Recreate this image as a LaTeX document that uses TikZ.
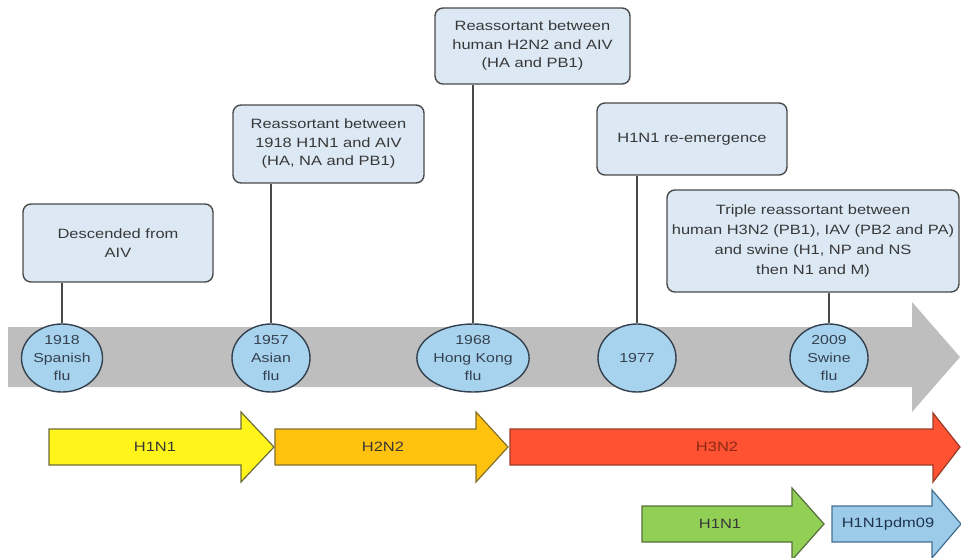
\documentclass[tikz,border=0pt]{standalone}
\usepackage{fontspec}
\setmainfont{Liberation Sans}[FakeStretch=1.22]
\usetikzlibrary{shapes.geometric}
\definecolor{boxfill}{HTML}{DCE9F5}
\definecolor{boxline}{HTML}{4A4A4A}
\definecolor{ellfill}{HTML}{A8D3EF}
\definecolor{ellline}{HTML}{34414E}
\definecolor{txt}{HTML}{383838}
\definecolor{grayarrow}{HTML}{BEBEBE}
\definecolor{yel}{HTML}{FFF51A}
\definecolor{yelline}{HTML}{6E6C3A}
\definecolor{ora}{HTML}{FFC20E}
\definecolor{oraline}{HTML}{85702A}
\definecolor{red1}{HTML}{FF5233}
\definecolor{redline}{HTML}{9A3B28}
\definecolor{grn}{HTML}{92CF55}
\definecolor{grnline}{HTML}{55703A}
\definecolor{blu}{HTML}{9CCBEA}
\definecolor{bluline}{HTML}{44708F}
\definecolor{redtxt}{HTML}{8A2A14}
\definecolor{blutxt}{HTML}{1F3550}
\begin{document}
\begin{tikzpicture}[x=1pt,y=-1pt,
  infobox/.style={draw=boxline,line width=1.4pt,fill=boxfill,rounded corners=8pt,
    align=center,text=txt,inner sep=0pt,font=\fontsize{13.5}{18.5}\selectfont},
  year/.style={ellipse,draw=ellline,line width=1.4pt,fill=ellfill,inner sep=0pt,
    minimum width=78pt,minimum height=68pt,align=center,text=ellline,
    font=\fontsize{13}{18}\selectfont},
  link/.style={draw=boxline,line width=1.6pt},
  lab/.style={font=\fontsize{13.5}{16}\selectfont,text=txt},
  band/.style={line width=1.2pt,line join=miter}]
\useasboundingbox (0,0) rectangle (961,557);

% grey timeline arrow
\fill[grayarrow] (8,327) -- (912,327) -- (912,302) -- (960,357) -- (912,412) -- (912,387) -- (8,387) -- cycle;

% info boxes
\node[infobox,minimum width=190pt,minimum height=78pt] (b1) at (118,243) {Descended from\\AIV};
\node[infobox,minimum width=191pt,minimum height=78pt] (b2) at (328.5,144) {Reassortant between\\1918 H1N1 and AIV\\(HA, NA and PB1)};
\node[infobox,minimum width=195pt,minimum height=76pt] (b3) at (532.5,46) {Reassortant between\\human H2N2 and AIV\\(HA and PB1)};
\node[infobox,minimum width=190pt,minimum height=72pt] (b4) at (692,139) {H1N1 re-emergence};
\node[infobox,minimum width=292pt,minimum height=102pt,font=\fontsize{13.5}{20}\selectfont] (b5) at (813,241) {Triple reassortant between\\human H3N2 (PB1), IAV (PB2 and PA)\\and swine (H1, NP and NS\\then N1 and M)};

% year ellipses
\node[year] (e1) at (62,358) {1918\\Spanish\\flu};
\node[year] (e2) at (271,358) {1957\\Asian\\flu};
\node[year,minimum width=88pt] (e3) at (473,358) {1968\\Hong Kong\\flu};
\node[year] (e4) at (637,358) {1977};
\node[year] (e5) at (829,358) {2009\\Swine\\flu};

% connectors
\draw[link] (e1.north) -- (e1.north |- b1.south);
\draw[link] (e2.north) -- (e2.north |- b2.south);
\draw[link] (e3.north) -- (e3.north |- b3.south);
\draw[link] (e4.north) -- (e4.north |- b4.south);
\draw[link] (e5.north) -- (e5.north |- b5.south);

% subtype arrows
\draw[band,draw=yelline,fill=yel] (49,429) -- (241,429) -- (241,412) -- (274,447) -- (241,482) -- (241,465) -- (49,465) -- cycle;
\draw[band,draw=oraline,fill=ora] (275,429) -- (476,429) -- (476,412) -- (508,447) -- (476,482) -- (476,465) -- (275,465) -- cycle;
\draw[band,draw=redline,fill=red1] (510,429) -- (933,429) -- (933,413) -- (960,447) -- (933,482) -- (933,465) -- (510,465) -- cycle;
\draw[band,draw=grnline,fill=grn] (642,506) -- (792,506) -- (792,488) -- (824,524) -- (792,560) -- (792,542) -- (642,542) -- cycle;
\draw[band,draw=bluline,fill=blu] (832,506) -- (932,506) -- (932,490) -- (961,524) -- (932,558) -- (932,542) -- (832,542) -- cycle;

\node[lab] (l1) at (155,447) {H1N1};
\node[lab] (l2) at (383,447) {H2N2};
\node[lab,text=redtxt] (l3) at (717,447) {H3N2};
\node[lab] (l4) at (720,524) {H1N1};
\node[lab,text=blutxt] (l5) at (888,524) {H1N1pdm09};
\end{tikzpicture}
\end{document}
